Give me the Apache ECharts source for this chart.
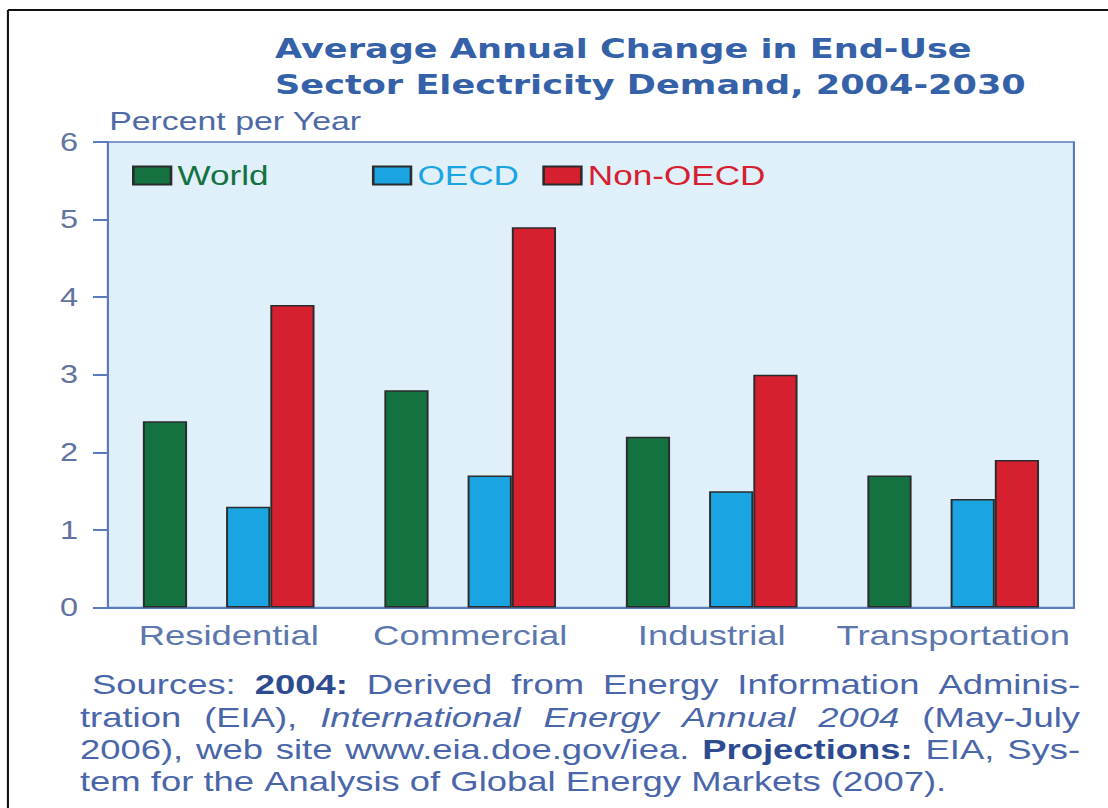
<!DOCTYPE html>
<html>
<head>
<meta charset="utf-8">
<title>Average Annual Change in End-Use Sector Electricity Demand, 2004-2030</title>
<script src="https://cdn.jsdelivr.net/npm/echarts@6/dist/echarts.min.js"></script>
<style>
  html, body { margin: 0; padding: 0; background: #ffffff; overflow: hidden; }
  #stage { width: 1108px; height: 808px; overflow: hidden; position: relative; background: #ffffff; }
  /* The figure uses horizontally widened lettering; the chart is laid out on a
     narrower canvas and stretched sideways to reproduce that typography. */
  #chart { width: 852px; height: 808px; transform: scaleX(1.3005); transform-origin: 0 0; }
</style>
</head>
<body>
<div id="stage"><div id="chart"></div></div>
<script>
// ---- data -------------------------------------------------------------
const categories = ['Residential', 'Commercial', 'Industrial', 'Transportation'];
const worldValues = [2.4, 2.8, 2.2, 1.7];
const oecdValues = [1.3, 1.7, 1.5, 1.4];
const nonOecdValues = [3.9, 4.9, 3.0, 1.9];
const yMin = 0, yMax = 6, yStep = 1;

const titleText = 'Average Annual Change in End-Use\nSector Electricity Demand, 2004-2030';
const yAxisTitle = 'Percent per Year';
// Source note: each line is a list of [text, style] runs (n = normal, b = bold, i = italic)
const sourceLines = [
  [['Sources: ', 'n'], ['2004:', 'b'], [' Derived from Energy Information Adminis-', 'n']],
  [['tration (EIA), ', 'n'], ['International Energy Annual 2004', 'i'], [' (May-July', 'n']],
  [['2006), web site www.eia.doe.gov/iea. ', 'n'], ['Projections:', 'b'], [' EIA, Sys-', 'n']],
  [['tem for the Analysis of Global Energy Markets (2007).', 'n']]
];

// ---- styling ----------------------------------------------------------
const COLORS = { World: '#137240', OECD: '#1aa5e2', 'Non-OECD': '#d6202f' };
const BAR_EDGE = '#2b2b2b';
const AXIS_BLUE = '#5a7cbc';
const SANS = '"Liberation Sans", Arial, sans-serif';
const TITLE_FONT = '"DejaVu Sans", Verdana, sans-serif';

const chart = echarts.init(document.getElementById('chart'), null, { renderer: 'svg' });

// ---- justified source note, laid out word by word -----------------------
const NOTE_SIZE = 28;
const measureCtx = document.createElement('canvas').getContext('2d');
function fontFor(style) {
  const w = style === 'b' ? 'bold ' : '';
  const s = style === 'i' ? 'italic ' : '';
  return s + w + NOTE_SIZE + 'px "Liberation Sans", Arial, sans-serif';
}
function noteElements() {
  const els = [];
  const right = 830.5;
  const lineY = [685, 717.5, 750, 782];
  sourceLines.forEach((runs, li) => {
    // split runs into words; a word is glued to the previous one when no space separates them
    const words = [];
    runs.forEach(([text, style], ri) => {
      const parts = text.split(' ');
      const prevEndsSpace = ri > 0 && runs[ri - 1][0].endsWith(' ');
      parts.forEach((p, pi) => {
        if (p === '') return;
        const glued = pi === 0 && ri > 0 && !prevEndsSpace;
        words.push({ text: p, style, glued });
      });
    });
    const left = li === 0 ? 70.8 : 61.5;
    measureCtx.font = fontFor('n');
    const spaceW = measureCtx.measureText(' ').width;
    words.forEach(w => { measureCtx.font = fontFor(w.style); w.width = measureCtx.measureText(w.text).width; });
    const gaps = words.filter((w, i) => i > 0 && !w.glued).length;
    const total = words.reduce((a, w) => a + w.width, 0);
    const justify = li < sourceLines.length - 1;   // last line stays ragged
    const gapW = justify && gaps > 0 ? (right - left - total) / gaps : spaceW;
    let x = left;
    words.forEach((w, i) => {
      if (i > 0 && !w.glued) x += gapW;
      els.push({
        type: 'text', x: x, y: lineY[li], silent: true,
        style: {
          text: w.text,
          fill: w.style === 'b' ? '#2c4b90' : '#4a66aa',
          fontSize: NOTE_SIZE,
          fontFamily: SANS,
          fontWeight: w.style === 'b' ? 'bold' : 'normal',
          fontStyle: w.style === 'i' ? 'italic' : 'normal',
          verticalAlign: 'middle', align: 'left'
        }
      });
      x += w.width;
    });
  });
  return els;
}

// ---- series -------------------------------------------------------------
function barSeries(name, values) {
  return {
    name: name, type: 'bar', data: values, barWidth: 34, barGap: '0%', barCategoryGap: '20%',
    itemStyle: { color: COLORS[name], borderColor: BAR_EDGE, borderWidth: 1.5 },
    emphasis: { disabled: true }
  };
}
// empty series that opens the gap between the World bar and the OECD pair
const spacer = {
  name: 'spacer', type: 'bar', data: categories.map(() => '-'), barWidth: 30, barGap: '0%',
  itemStyle: { color: 'transparent' }, silent: true
};

function legendAt(name, left) {
  return {
    data: [{ name: name, icon: 'rect' }], left: left, top: 162, padding: 0, itemWidth: 29, itemHeight: 18,
    selectedMode: false,
    itemStyle: { borderColor: BAR_EDGE, borderWidth: 2 },
    textStyle: { color: COLORS[name], fontSize: 27, fontFamily: SANS }
  };
}

const option = {
  backgroundColor: '#ffffff',
  animation: false,
  title: {
    text: titleText, left: 211.5, top: 31, padding: 0,
    textStyle: { color: '#3461a8', fontSize: 27, fontWeight: 'bold', fontFamily: TITLE_FONT, lineHeight: 36 }
  },
  legend: [legendAt('World', 101.5), legendAt('OECD', 286), legendAt('Non-OECD', 417)],
  grid: {
    left: 83, right: 26.2, top: 142, bottom: 200.5, containLabel: false,
    show: true, backgroundColor: '#dff0fa', borderColor: AXIS_BLUE, borderWidth: 1.6
  },
  xAxis: {
    type: 'category', data: categories,
    axisLine: { lineStyle: { color: AXIS_BLUE, width: 2 } },
    axisTick: { show: false },
    axisLabel: { interval: 0, color: '#5b77ad', fontSize: 28, fontFamily: SANS, margin: 14 }
  },
  yAxis: {
    type: 'value', min: yMin, max: yMax, interval: yStep,
    name: yAxisTitle, nameLocation: 'end', nameGap: 8,
    nameTextStyle: { color: '#4d6aa6', fontSize: 26, fontFamily: SANS, align: 'left', padding: [0, 0, 0, 1] },
    axisLine: { show: true, lineStyle: { color: AXIS_BLUE, width: 1.6 } },
    axisTick: { show: true, length: 11.5, lineStyle: { color: AXIS_BLUE, width: 2 } },
    splitLine: { show: false },
    axisLabel: { color: '#61739e', fontSize: 25, fontFamily: SANS, margin: 23 }
  },
  series: [
    barSeries('World', worldValues),
    spacer,
    barSeries('OECD', oecdValues),
    barSeries('Non-OECD', nonOecdValues)
  ],
  graphic: [
    // outer frame lines along the top and left edges
    { type: 'line', silent: true, shape: { x1: 6.1, y1: 10, x2: 852, y2: 10 }, style: { stroke: '#111', lineWidth: 2 } },
    { type: 'line', silent: true, shape: { x1: 6.1, y1: 10, x2: 6.1, y2: 808 }, style: { stroke: '#111', lineWidth: 1.6 } }
  ].concat(noteElements())
};

chart.setOption(option);
</script>
</body>
</html>
